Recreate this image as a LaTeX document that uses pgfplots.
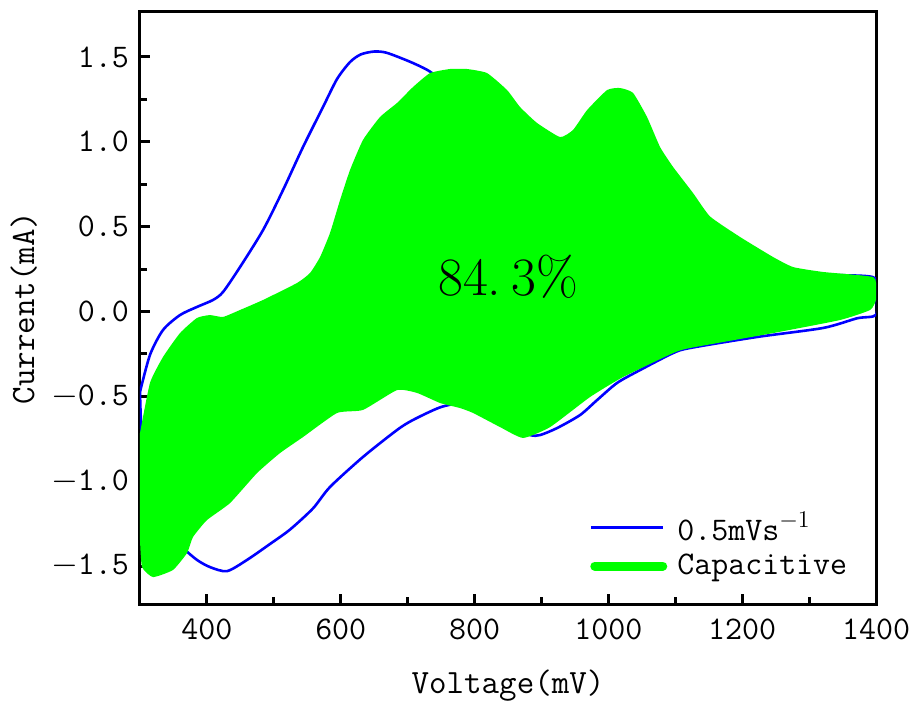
\documentclass[border=0pt]{standalone}
\usepackage{pgfplots}
\pgfplotsset{compat=1.18}
\begin{document}
\begin{tikzpicture}
\begin{axis}[
  scale only axis,
  width=368pt, height=296pt,
  xmin=300, xmax=1400,
  ymin=-1.7236, ymax=1.765,
  axis line style={line width=1.5pt},
  tick style={line width=1.5pt, black},
  tick align=inside,
  tick pos=left,
  major tick length=5pt,
  minor tick length=3.5pt,
  xtick={400,600,800,1000,1200,1400},
  xticklabels={400,600,800,1000,1200,1400},
  minor xtick={500,700,900,1100,1300},
  ytick={-1.5,-1,-0.5,0,0.5,1,1.5},
  yticklabels={$-$1.5,$-$1.0,$-$0.5,0.0,0.5,1.0,1.5},
  minor ytick={-1.25,-0.75,-0.25,0.25,0.75,1.25},
  every tick label/.append style={font=\ttfamily\fontsize{16.5}{19}\selectfont},
  xticklabel style={yshift=-4pt},
  yticklabel style={xshift=-2pt},
  xlabel={Voltage(mV)},
  ylabel={Current(mA)},
  label style={font=\ttfamily\fontsize{17}{19}\selectfont},
  xlabel style={at={(axis description cs:0.5,-0.1385)}, anchor=center},
  ylabel style={at={(axis description cs:-0.158,0.5)}, anchor=center},
  legend style={draw=none, fill=none, at={(axis description cs:0.602,0.03)}, anchor=south west,
    font=\ttfamily\fontsize{16.5}{19}\selectfont, row sep=1.5pt, column sep=3pt},
  legend cell align=left,
]
\addplot[color=blue, line width=1.3pt, smooth, tension=0.45,
  legend image code/.code={\draw[blue, line width=1.3pt] (0pt,0pt) -- (36pt,0pt);}] coordinates {
(300,-0.474) (314.9,-0.256) (334.4,-0.109) (359.8,-0.021) (385.2,0.027) (409.1,0.068)
(424.1,0.115) (449.5,0.262) (483.9,0.480) (513.8,0.716) (543.6,0.969) (573.5,1.205)
(594.5,1.370) (613.9,1.470) (630,1.515) (650,1.532) (669.2,1.524) (708.1,1.464) (736.5,1.405)
(760,1.30) (800,1.10) (850,0.90) (900,0.75) (950,0.65) (1000,0.55) (1050,0.45)
(1100,0.38) (1200,0.28) (1300,0.22) (1395,0.203) (1400,0.10) (1400,-0.02)
(1371.7,-0.040) (1320.9,-0.097) (1222.3,-0.150) (1122.1,-0.215) (1096.7,-0.245)
(1047.4,-0.345) (1013.0,-0.421) (983.1,-0.522) (957.7,-0.610) (923.3,-0.687)
(897.9,-0.728) (883.0,-0.728) (850,-0.68) (810,-0.60) (778.3,-0.545) (748.4,-0.565)
(708.1,-0.639) (684.2,-0.698) (633.3,-0.857) (584.0,-1.034) (558.6,-1.160)
(524.2,-1.285) (494.3,-1.370) (459.9,-1.464) (430.0,-1.530) (404.6,-1.506)
(385.2,-1.464) (364.3,-1.394) (340,-1.30) (315,-1.05) (303,-0.75) (300,-0.474)
};
\addlegendentry{0.5mVs$^{-1}$}
\addplot[fill=green, draw=none, smooth, tension=0.3,
  legend image code/.code={\draw[green, line width=4.5pt, line cap=round] (2pt,0pt) -- (36pt,0pt);}]
 coordinates {
(300,-0.716) (314.9,-0.421) (334.4,-0.268) (359.8,-0.127) (385.2,-0.038) (404.6,-0.021)
(424.1,-0.032) (449.5,0.009) (483.9,0.068) (534.7,0.168) (554.1,0.227) (569.1,0.321)
(584.0,0.463) (599.0,0.657) (613.9,0.834) (633.3,1.011) (658.7,1.146) (684.2,1.229)
(708.1,1.323) (733.5,1.405) (763.4,1.429) (788.8,1.429) (818.7,1.405) (848.6,1.305)
(868.0,1.205) (893.4,1.111) (927.8,1.028) (947.2,1.070) (968.2,1.187) (998.1,1.305)
(1017.5,1.317) (1036.9,1.288) (1057.8,1.146) (1077.3,0.969) (1096.7,0.852)
(1126.6,0.698) (1152.0,0.560) (1196.9,0.439) (1246.2,0.321) (1276.1,0.262)
(1320.9,0.233) (1395.7,0.203) (1400,0.127) (1400,0.068) (1391.2,0.009)
(1346.3,-0.050) (1246.2,-0.127) (1122.1,-0.215) (1096.7,-0.245) (1022.0,-0.386)
(972.6,-0.504) (912.9,-0.681) (872.5,-0.745) (838.1,-0.681) (797.8,-0.598)
(778.3,-0.569) (748.4,-0.539) (714.1,-0.480) (684.2,-0.463) (633.3,-0.580)
(594.5,-0.598) (543.6,-0.740) (509.3,-0.834) (474.9,-0.952) (434.5,-1.129)
(400.1,-1.229) (379.2,-1.329) (370.3,-1.423) (349.3,-1.523) (319.4,-1.565)
(303.0,-1.506) (300,-1.346)
} -- cycle;
\addlegendentry{Capacitive}
\node[font=\fontsize{27}{30}\selectfont] at (axis cs:850,0.203) {84.\hspace{5pt}3\%};
\end{axis}
\pgfresetboundingbox
\path (-70pt,-51pt) rectangle (387pt,302pt);
\end{tikzpicture}
\end{document}
